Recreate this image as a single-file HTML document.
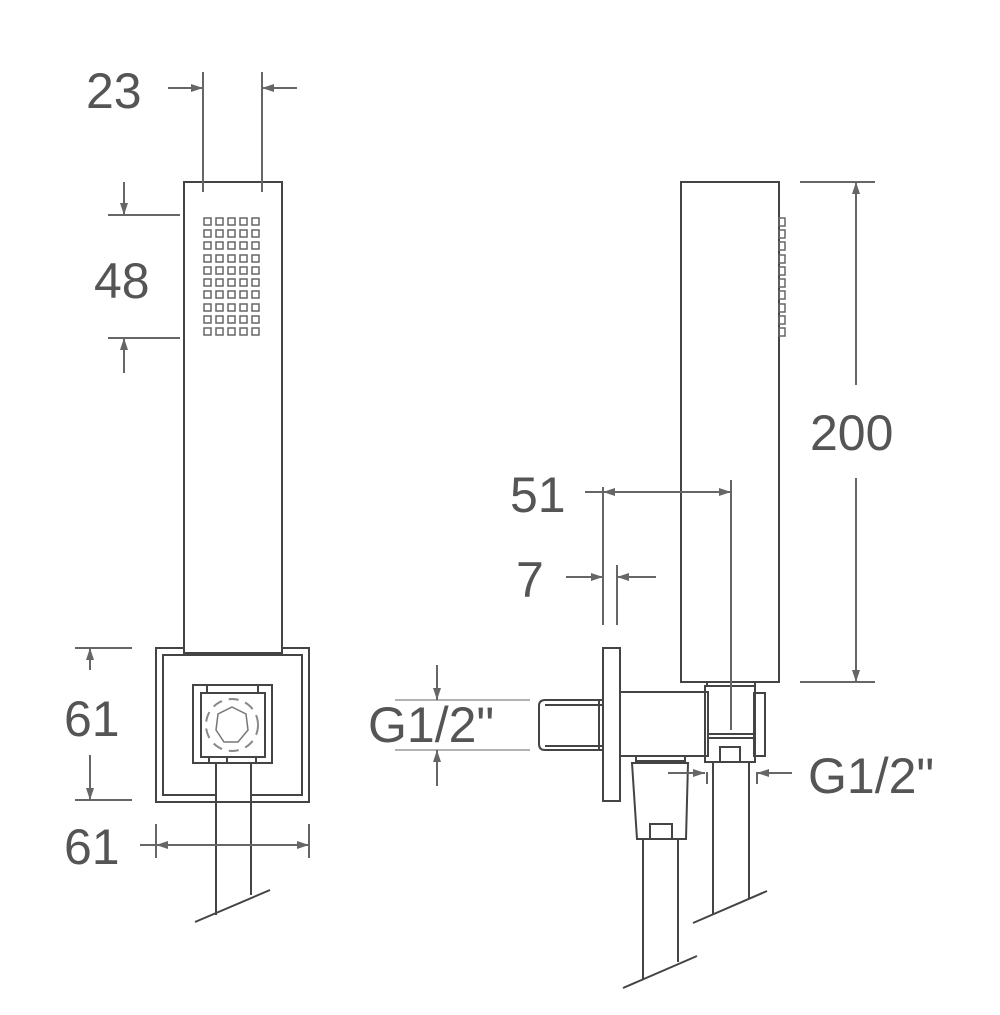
<!DOCTYPE html>
<html><head><style>body{margin:0;background:#fff}svg{display:block}text{font-family:"Liberation Sans",sans-serif;fill:#555;font-size:50px}</style></head>
<body>
<svg width="1000" height="1015" viewBox="0 0 1000 1015" xmlns="http://www.w3.org/2000/svg">
<defs><marker id="a" markerWidth="12" markerHeight="8" refX="12" refY="4" orient="auto" markerUnits="userSpaceOnUse"><path d="M0,0 L12,4 L0,8 z" fill="#666"/></marker></defs>
<g fill="none" stroke="#444" stroke-width="2">
<rect x="156" y="648" width="153" height="154"/>
<rect x="163" y="655" width="139" height="140"/>
<!-- left handset -->
<rect x="184" y="182" width="98" height="471" fill="#fff"/>
<rect x="193" y="685" width="79" height="78" fill="#fff"/>
<rect x="201" y="693" width="64" height="64"/>
<line x1="207" y1="685" x2="207" y2="693"/><line x1="258" y1="685" x2="258" y2="693"/>
<line x1="209" y1="757" x2="209" y2="763"/><line x1="256" y1="757" x2="256" y2="763"/><line x1="227" y1="757" x2="227" y2="763"/>
<polygon points="232,707 246,714 248,730 238,742 224,742 216,730 218,714" stroke="#777" stroke-width="1.5"/>
<circle cx="232" cy="725" r="26" stroke="#888" stroke-width="2" stroke-dasharray="10 7"/>
<rect x="216" y="764" width="35" height="37" fill="#fff" stroke="none"/>
<line x1="216" y1="763" x2="216" y2="915"/><line x1="251" y1="763" x2="251" y2="895"/>
<line x1="195" y1="922" x2="270" y2="890"/>
<!-- right handset -->
<rect x="681" y="182" width="98" height="500"/>
<rect x="603" y="648" width="17" height="153"/>
<rect x="620" y="692" width="88" height="64"/>
<path d="M603,700 H545 Q539,700 539,706 V744 Q539,750 545,750 H603"/>
<line x1="545" y1="705" x2="603" y2="705"/><line x1="545" y1="746" x2="603" y2="746"/><line x1="599" y1="700" x2="599" y2="750"/>
<rect x="705" y="686" width="50" height="76"/>
<line x1="707" y1="682" x2="707" y2="686"/><line x1="755" y1="682" x2="755" y2="686"/>
<rect x="754" y="693" width="11" height="63"/>
<line x1="709" y1="734" x2="754" y2="734"/><line x1="709" y1="738" x2="754" y2="738"/>
<rect x="720" y="747" width="20" height="15"/>
<rect x="636" y="756" width="49" height="5"/>
<path d="M632,763 H688 L686,839 H637 Z"/>
<rect x="650" y="824" width="22" height="15"/>
<line x1="643" y1="839" x2="643" y2="980"/><line x1="678" y1="839" x2="678" y2="962"/>
<line x1="623" y1="988" x2="697" y2="956"/>
<line x1="713" y1="762" x2="713" y2="914"/><line x1="749" y1="762" x2="749" y2="898"/>
<line x1="693" y1="923" x2="767" y2="891"/>
</g>
<g fill="none" stroke="#666" stroke-width="2">
<line x1="203" y1="72" x2="203" y2="192"/><line x1="262" y1="72" x2="262" y2="192"/>
<line x1="168" y1="88" x2="203" y2="88" marker-end="url(#a)"/><line x1="297" y1="88" x2="262" y2="88" marker-end="url(#a)"/>
<line x1="108" y1="215" x2="180" y2="215"/><line x1="108" y1="338" x2="180" y2="338"/>
<line x1="124" y1="182" x2="124" y2="215" marker-end="url(#a)"/><line x1="124" y1="373" x2="124" y2="338" marker-end="url(#a)"/>
<line x1="75" y1="648" x2="132" y2="648"/><line x1="75" y1="800" x2="132" y2="800"/>
<line x1="90" y1="670" x2="90" y2="648" marker-end="url(#a)"/><line x1="90" y1="755" x2="90" y2="800" marker-end="url(#a)"/>
<line x1="156" y1="824" x2="156" y2="858"/><line x1="309" y1="824" x2="309" y2="858"/>
<line x1="140" y1="845" x2="309" y2="845" marker-end="url(#a)"/><line x1="300" y1="845" x2="156" y2="845" marker-end="url(#a)"/>
<line x1="800" y1="182" x2="875" y2="182"/><line x1="800" y1="682" x2="875" y2="682"/>
<line x1="856" y1="385" x2="856" y2="182" marker-end="url(#a)"/><line x1="856" y1="478" x2="856" y2="682" marker-end="url(#a)"/>
<line x1="603" y1="487" x2="603" y2="625"/><line x1="731" y1="480" x2="731" y2="730"/>
<line x1="585" y1="492" x2="731" y2="492" marker-end="url(#a)"/><line x1="620" y1="492" x2="603" y2="492" marker-end="url(#a)"/>
<line x1="617" y1="565" x2="617" y2="625"/>
<line x1="566" y1="577" x2="603" y2="577" marker-end="url(#a)"/><line x1="656" y1="577" x2="617" y2="577" marker-end="url(#a)"/>
<line x1="395" y1="700" x2="530" y2="700" stroke-width="1"/><line x1="395" y1="750" x2="530" y2="750" stroke-width="1"/>
<line x1="437" y1="665" x2="437" y2="700" marker-end="url(#a)"/><line x1="437" y1="786" x2="437" y2="750" marker-end="url(#a)"/>
<line x1="668" y1="773" x2="705" y2="773" marker-end="url(#a)"/><line x1="792" y1="773" x2="757" y2="773" marker-end="url(#a)"/>
<line x1="707" y1="772" x2="707" y2="784"/><line x1="757" y1="772" x2="757" y2="784"/>
</g>
<g fill="none" stroke="#666" stroke-width="1.5">
<path d="M204,218h7v7h-7zM216,218h7v7h-7zM228,218h7v7h-7zM240,218h7v7h-7zM252,218h7v7h-7z"/>
<path d="M204,230h7v7h-7zM216,230h7v7h-7zM228,230h7v7h-7zM240,230h7v7h-7zM252,230h7v7h-7z"/>
<path d="M204,242h7v7h-7zM216,242h7v7h-7zM228,242h7v7h-7zM240,242h7v7h-7zM252,242h7v7h-7z"/>
<path d="M204,255h7v7h-7zM216,255h7v7h-7zM228,255h7v7h-7zM240,255h7v7h-7zM252,255h7v7h-7z"/>
<path d="M204,267h7v7h-7zM216,267h7v7h-7zM228,267h7v7h-7zM240,267h7v7h-7zM252,267h7v7h-7z"/>
<path d="M204,279h7v7h-7zM216,279h7v7h-7zM228,279h7v7h-7zM240,279h7v7h-7zM252,279h7v7h-7z"/>
<path d="M204,291h7v7h-7zM216,291h7v7h-7zM228,291h7v7h-7zM240,291h7v7h-7zM252,291h7v7h-7z"/>
<path d="M204,304h7v7h-7zM216,304h7v7h-7zM228,304h7v7h-7zM240,304h7v7h-7zM252,304h7v7h-7z"/>
<path d="M204,316h7v7h-7zM216,316h7v7h-7zM228,316h7v7h-7zM240,316h7v7h-7zM252,316h7v7h-7z"/>
<path d="M204,328h7v7h-7zM216,328h7v7h-7zM228,328h7v7h-7zM240,328h7v7h-7zM252,328h7v7h-7z"/>
<path d="M779,218h6v8h-6zM779,230h6v8h-6zM779,242h6v8h-6zM779,255h6v8h-6zM779,267h6v8h-6zM779,279h6v8h-6zM779,291h6v8h-6zM779,304h6v8h-6zM779,316h6v8h-6zM779,328h6v8h-6z"/>
</g>
<text x="86" y="108">23</text>
<text x="94" y="298">48</text>
<text x="64" y="736">61</text>
<text x="64" y="864">61</text>
<text x="810" y="450">200</text>
<text x="510" y="512">51</text>
<text x="516" y="597">7</text>
<text x="368" y="742">G1/2"</text>
<text x="808" y="793">G1/2"</text>
</svg>
</body></html>
